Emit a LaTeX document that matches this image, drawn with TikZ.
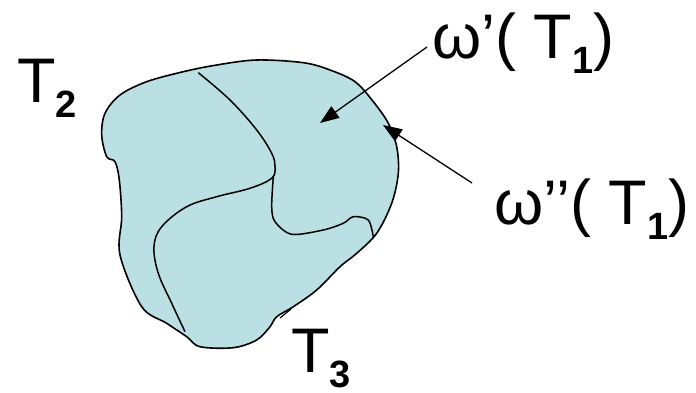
\documentclass[tikz,border=0pt]{standalone}
\usepackage{fontspec}
\setmainfont{Liberation Sans}
\usetikzlibrary{arrows.meta}
\definecolor{regionfill}{RGB}{187,224,227}
\newcommand\subidx[1]{\raisebox{-15pt}{\fontsize{38}{38}\selectfont\bfseries #1}}
\tikzset{
  lbl/.style={inner sep=0pt, anchor=base west, font=\fontsize{63}{68}\selectfont},
  outline/.style={draw=black, line width=1.6pt, fill=regionfill},
  border/.style={draw=black, line width=1.5pt},
  pointer/.style={draw=black, line width=1.3pt, -{Triangle[length=19pt,width=14pt]}}
}
\begin{document}
\begin{tikzpicture}[x=1pt,y=1pt]
\useasboundingbox (0,0) rectangle (696,393);
% region outline
\path[outline] plot[smooth cycle, tension=0.55] coordinates {
(101.7,258) (105,279.7) (120,298) (146.7,311.3) (183.3,321.3) (216.7,328)
(256.7,333) (303.3,330.3) (330,323) (355,311.3) (373.3,291.3) (388.3,269.7)
(396.7,246.3) (398.3,219.7) (391.7,189.7) (376.7,159.7) (356.7,139.7) (340,126.3)
(316.7,103) (293.3,86.3) (276.7,76.3) (270,66.3) (256.7,53) (233.3,45.3)
(200,46.3) (186.7,56.3) (166.7,69.7) (141.7,86.3) (120,138) (121.7,176.3)
(119.3,213) (115,231.3) (106.7,236.3)};
% interior boundaries
\draw[border] plot[smooth, tension=0.6] coordinates {
(198.3,320.3) (230,293) (256.7,263) (271.7,239.7) (275,226.3) (271.7,214.7)
(250,204.7) (216.7,196.3) (186.7,186.3) (161.7,166.3) (154,146.3) (158.3,119.7)
(171.7,89.7) (185,61.3)};
\draw[border] plot[smooth, tension=0.5] coordinates {
(273.3,216.3) (271.7,186.3) (275,171.3) (291.7,158.7) (323.3,163) (343.3,169.7)
(353.3,176.3) (368.3,173) (373.3,156.3)};
\draw[border, line width=1.2pt] (280,75) -- (291,84);
% labels
\node[lbl] (w1) at (432,334) {ω’( T\subidx{1})};
\node[lbl] (w2) at (494,168) {ω’’( T\subidx{1})};
\node[lbl] (t2) at (17,290) {T\subidx{2}};
\node[lbl] (t3) at (291,20) {T\subidx{3}};
% pointers
\coordinate (p1s) at (427,346);
\coordinate (p1e) at (320,270);
\coordinate (p2s) at (472,210);
\coordinate (p2e) at (383,268);
\draw[pointer] (p1s) -- (p1e);
\draw[pointer] (p2s) -- (p2e);
\end{tikzpicture}
\end{document}
